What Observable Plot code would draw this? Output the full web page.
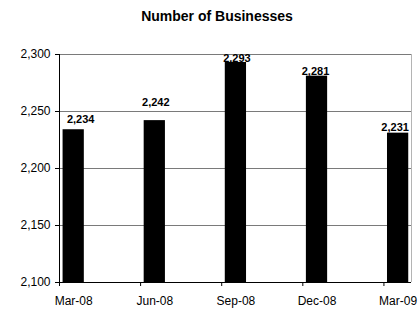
<!DOCTYPE html>
<html>
<head>
<meta charset="utf-8">
<script src="https://cdn.jsdelivr.net/npm/d3@7"></script>
<script src="https://cdn.jsdelivr.net/npm/@observablehq/plot@0.6"></script>
<style>
  html, body { margin: 0; padding: 0; background: #fff; }
  body { width: 420px; height: 310px; overflow: hidden; font-family: "Liberation Sans", Arial, sans-serif; }
  #title { height: 30px; line-height: 32px; font-weight: bold; font-size: 14px; text-align: center; padding-left: 14px; box-sizing: border-box; color: #000; }
  svg { display: block; }
</style>
</head>
<body>
<div id="title">Number of Businesses</div>
<div id="chart"></div>
<script>
const categories = ["Mar-08", "Jun-08", "Sep-08", "Dec-08", "Mar-09"];
const businesses = [2234, 2242, 2293, 2281, 2231];
const yTicks = [2100, 2150, 2200, 2250, 2300];

const data = categories.map((c, i) => ({i, category: c, value: businesses[i]}));
const idx = categories.map((c, i) => i);
const xDomain = [-0.175, categories.length - 1 + 0.165];
const yDomain = [yTicks[0], yTicks[yTicks.length - 1]];
const fmt = d3.format(",");
const half = 0.131;          // half bar width in period units
const tickShift = 0.175;     // x tick marks sit left of each bar
// label nudges [dx, dy] in pixels (styling only)
const nudges = [[7, -10], [1, -18], [1, -4.5], [-1.5, -5], [-3, -5.5]];

const plot = Plot.plot({
  width: 420,
  height: 280,
  marginLeft: 59,
  marginRight: 9,
  marginTop: 24,
  marginBottom: 28,
  style: {fontFamily: "'Liberation Sans', Arial, sans-serif", color: "#000", background: "#fff"},
  x: {domain: xDomain, axis: null, label: null},
  y: {domain: yDomain, axis: null, label: null},
  marks: [
    Plot.gridY(yTicks, {stroke: "#7a7a7a", strokeOpacity: 1}),
    Plot.ruleX([xDomain[1]], {stroke: "#b4b4b4"}),
    Plot.rectY(data, {x1: d => d.i - half, x2: d => d.i + half, y1: yDomain[0], y2: "value", fill: "#000"}),
    Plot.ruleX([xDomain[0]], {stroke: "#000"}),
    Plot.ruleY([yDomain[0]], {stroke: "#000"}),
    Plot.axisY(yTicks, {tickFormat: fmt, tickSize: 4, tickPadding: 5, fontSize: 12, label: null}),
    Plot.axisX(idx.map(i => i - tickShift), {tickFormat: () => "", tickSize: 4, stroke: "#000", label: null}),
    Plot.axisX(idx, {tickFormat: i => categories[i], tickSize: 0, tickPadding: 14, fontSize: 12, label: null}),
    ...data.map((d, k) => Plot.text([d], {
      x: "i", y: "value", text: r => fmt(r.value),
      fontWeight: "bold", fontSize: 11, fill: "#000",
      dx: nudges[k][0], dy: nudges[k][1]
    }))
  ]
});
document.getElementById("chart").appendChild(plot);
</script>
</body>
</html>
